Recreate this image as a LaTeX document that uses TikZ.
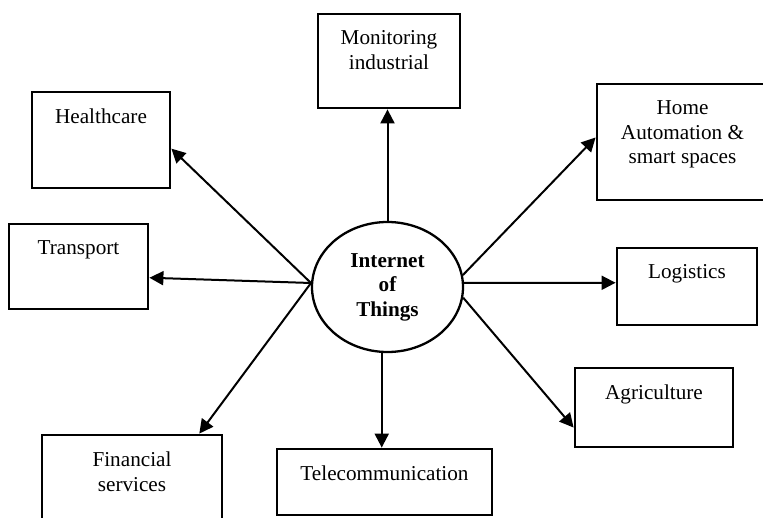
\documentclass[tikz,border=0pt]{standalone}
\usepackage{fontspec}
\setmainfont{Liberation Serif}
\usetikzlibrary{shapes.geometric,arrows.meta}
\tikzset{
    area/.style={draw, line width=2.8pt, inner sep=0pt},
    area text/.style={anchor=north, inner sep=0pt, yshift=-18pt, align=center,
        font=\fontsize{21.2}{24.5}\selectfont},
    hub/.style={draw, ellipse, line width=2.3pt, inner sep=0pt, minimum width=151pt,
        minimum height=130pt, align=center, font=\fontsize{21.2}{24.5}\selectfont\bfseries},
    link/.style={line width=2pt, -{Triangle[length=14pt,width=14pt]}},
}

\begin{document}
\begin{tikzpicture}[x=1pt, y=-1pt]
\useasboundingbox (0,0) rectangle (763,517);
% centre
\node[hub] (iot) at (387.5,287) {Internet\\of\\Things};
% application areas
\node[area, minimum width=142pt, minimum height=94pt, label={[area text]north:Monitoring\\industrial}] (mon) at (389,61) {};
\node[area, minimum width=138pt, minimum height=96pt, label={[area text]north:Healthcare}] (health) at (101,140) {};
\node[area, minimum width=171pt, minimum height=116pt, label={[area text]north:Home\\Automation \&\\smart spaces}] (home) at (682.5,142) {};
\node[area, minimum width=139pt, minimum height=85pt, label={[area text]north:Transport}] (trans) at (78.5,266.5) {};
\node[area, minimum width=140pt, minimum height=77pt, label={[area text]north:Logistics}] (log) at (687,286.5) {};
\node[area, minimum width=158pt, minimum height=79pt, label={[area text]north:Agriculture}] (agri) at (654,407.5) {};
\node[area, minimum width=180pt, minimum height=95pt, label={[area text]north:Financial\\services}] (fin) at (132,482.5) {};
\node[area, minimum width=215pt, minimum height=66pt, label={[area text]north:Telecommunication}] (tele) at (384.5,482) {};
% arrows
\draw[link] (iot.north) -- (iot.north |- mon.south);
\draw[link] (iot.177) -- (health.-7);
\draw[link] (iot.177) -- (trans.-9);
\draw[link] (iot.177) -- (fin.36);
\draw[link] (iot.265) -- (iot.265 |- tele.north);
\draw[link] (iot.-8) -- (agri.194);
\draw[link] (iot.3) -- (log.177);
\draw[link] (iot.9) -- (home.177);
\end{tikzpicture}
\end{document}
